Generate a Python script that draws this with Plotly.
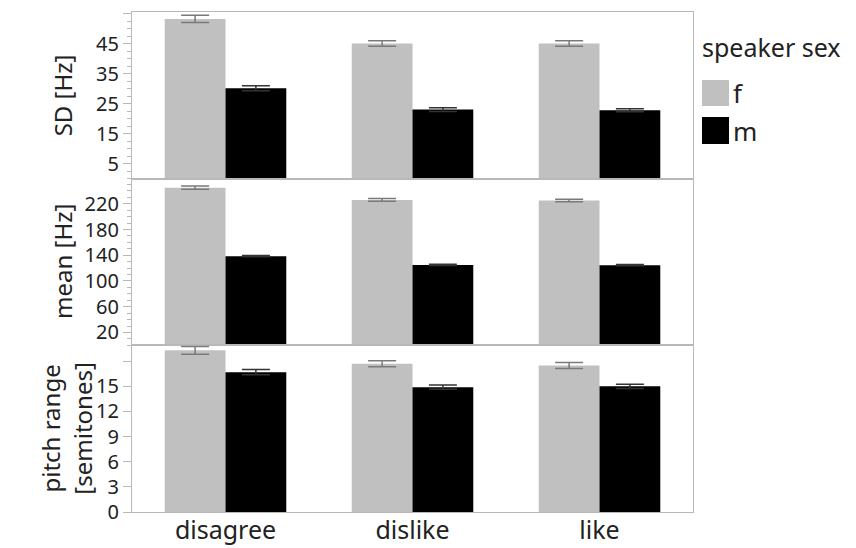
import plotly.graph_objects as go
from plotly.subplots import make_subplots

categories = ["disagree", "dislike", "like"]
groups = ["f", "m"]

sd_f = [53.2, 45.0, 45.0]
sd_f_err = [1.2, 0.9, 0.9]
sd_m = [30.1, 23.0, 22.8]
sd_m_err = [0.8, 0.6, 0.5]

mean_f = [245, 226, 225]
mean_f_err = [2.5, 2.0, 2.0]
mean_m = [138.5, 125, 124.5]
mean_m_err = [1.0, 1.0, 1.0]

pr_f = [19.3, 17.7, 17.5]
pr_f_err = [0.46, 0.36, 0.36]
pr_m = [16.7, 14.9, 15.0]
pr_m_err = [0.3, 0.25, 0.25]

sd_ticks = [5, 15, 25, 35, 45, 55]
sd_ticktext = ["5", "15", "25", "35", "45", ""]
mean_ticks = [20, 60, 100, 140, 180, 220]
pr_ticks = [0, 3, 6, 9, 12, 15, 18]
pr_ticktext = ["0", "3", "6", "9", "12", "15", ""]

FONT = "Noto Sans"
C_F = "#c0c0c0"
C_M = "#000000"
AX = "#b8b8b8"

fig = make_subplots(rows=3, cols=1, shared_xaxes=True, vertical_spacing=0)

panels = [
    (1, sd_f, sd_f_err, sd_m, sd_m_err),
    (2, mean_f, mean_f_err, mean_m, mean_m_err),
    (3, pr_f, pr_f_err, pr_m, pr_m_err),
]
for row, fv, fe, mv, me in panels:
    fig.add_trace(go.Bar(x=categories, y=fv, name="f", marker=dict(color=C_F, line=dict(width=0)),
                         error_y=dict(type="data", array=fe, color="#7a7a7a", thickness=1.5, width=14),
                         showlegend=False), row=row, col=1)
    fig.add_trace(go.Bar(x=categories, y=mv, name="m", marker=dict(color=C_M, line=dict(width=0)),
                         error_y=dict(type="data", array=me, color="#333333", thickness=1.5, width=14),
                         showlegend=False), row=row, col=1)

# page body has an 8px margin; figure sized so it ends at the window edges
fig.update_layout(
    width=848, height=540,
    margin=dict(l=124, r=163, t=4, b=36, autoexpand=False),
    barmode="group", bargap=0.35, bargroupgap=0,
    plot_bgcolor="white", paper_bgcolor="white",
    font=dict(family=FONT, color="#222222", size=20),
)

common_y = dict(showline=True, linecolor=AX, linewidth=1.2, mirror=True, showgrid=False, zeroline=False,
                ticks="outside", ticklen=8, tickcolor=AX, tickwidth=1.2, automargin=False,
                tickfont=dict(size=20, family=FONT, color="#222222"))
fig.update_yaxes(**common_y)
fig.update_yaxes(range=[0, 55.5], tickmode="array", tickvals=sd_ticks, ticktext=sd_ticktext,
                 minor=dict(ticks="outside", ticklen=4, tickcolor=AX, dtick=2.5, tick0=5, showgrid=False),
                 row=1, col=1)
fig.update_yaxes(range=[0, 259], tickmode="array", tickvals=mean_ticks,
                 minor=dict(ticks="outside", ticklen=4, tickcolor=AX, dtick=10, tick0=0, showgrid=False),
                 row=2, col=1)
fig.update_yaxes(range=[0, 19.9], tickmode="array", tickvals=pr_ticks, ticktext=pr_ticktext, row=3, col=1)

fig.update_xaxes(showline=True, linecolor=AX, linewidth=1.2, mirror=True, showgrid=False, automargin=False,
                 ticks="", ticklen=0, ticklabelstandoff=-4,
                 tickfont=dict(size=25, family=FONT, color="#222222"))

# axis titles
def ytitle(text, yref, xpix):
    fig.add_annotation(text=text, xref="paper", yref=yref, x=0, y=0.5, xanchor="center", yanchor="middle",
                       xshift=xpix - 132, textangle=-90, showarrow=False,
                       font=dict(size=24, family=FONT, color="#222222"))

ytitle("SD [Hz]", "y domain", 62)
ytitle("mean [Hz]", "y2 domain", 62)
ytitle("pitch range<br>[semitones]", "y3 domain", 66)

# legend drawn manually (positions in screenshot pixels)
pw = 561
ph = 500
def px(x):
    return (x - 132) / pw
def py(y):
    return (512 - y) / ph

fig.add_annotation(text="speaker sex", xref="paper", yref="paper", x=px(700), y=py(47),
                   xanchor="left", yanchor="middle", showarrow=False,
                   font=dict(size=25, family=FONT, color="#222222"))
legend_items = [(groups[0], C_F, 80, 106), (groups[1], C_M, 117, 144)]
for lab, col, y0, y1 in legend_items:
    fig.add_shape(type="rect", xref="paper", yref="paper", x0=px(702), x1=px(729), y0=py(y1), y1=py(y0),
                  fillcolor=col, line=dict(width=0))
    fig.add_annotation(text=lab, xref="paper", yref="paper", x=px(731), y=py((y0 + y1) / 2),
                       xanchor="left", yanchor="middle", showarrow=False,
                       font=dict(size=26, family=FONT, color="#222222"))

fig.write_html("out.html")
